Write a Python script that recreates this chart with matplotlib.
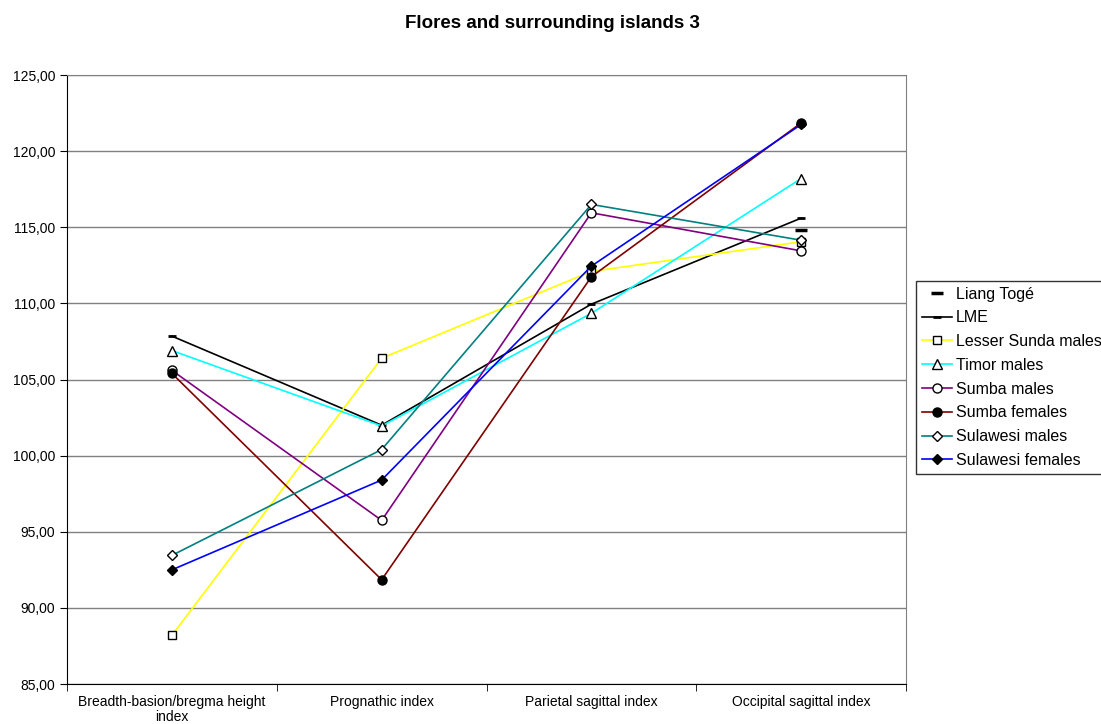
import numpy as np
import matplotlib.pyplot as plt
from matplotlib.ticker import FuncFormatter, FixedLocator

plt.rcParams['font.family'] = ['Liberation Sans', 'DejaVu Sans']

categories = ['Breadth-basion/bregma height\nindex', 'Prognathic index',
              'Parietal sagittal index', 'Occipital sagittal index']

liang_toge = [np.nan, np.nan, np.nan, 114.8]
lme = [107.85, 102.0, 109.95, 115.6]
lesser_sunda_m = [88.2, 106.4, 112.1, 114.05]
timor_m = [106.9, 101.95, 109.35, 118.2]
sumba_m = [105.6, 95.75, 115.95, 113.45]
sumba_f = [105.4, 91.85, 111.75, 121.85]
sulawesi_m = [93.45, 100.4, 116.5, 114.15]
sulawesi_f = [92.5, 98.4, 112.45, 121.75]

fig = plt.figure(figsize=(11.01, 7.24), dpi=100)
ax = fig.add_axes([0.0609, 0.0552, 0.7620, 0.8412])

x = np.arange(len(categories))

ax.plot(x, liang_toge, ls='none', marker='_', color='black', ms=8, mew=2.5,
        label='Liang Togé')
ax.plot(x, lme, color='black', lw=1.2, marker='_', ms=6, mew=2, label='LME')
ax.plot(x, lesser_sunda_m, color='#FFFF00', lw=1.2, marker='s', ms=6,
        mfc='white', mec='black', mew=1, label='Lesser Sunda males')
ax.plot(x, timor_m, color='#00FFFF', lw=1.2, marker='^', ms=7,
        mfc='white', mec='black', mew=1, label='Timor males')
ax.plot(x, sumba_m, color='#800080', lw=1.2, marker='o', ms=6.5,
        mfc='white', mec='black', mew=1, label='Sumba males')
ax.plot(x, sumba_f, color='#800000', lw=1.2, marker='o', ms=6.5,
        mfc='black', mec='black', mew=1, label='Sumba females')
ax.plot(x, sulawesi_m, color='#008080', lw=1.2, marker='D', ms=5,
        mfc='white', mec='black', mew=1, label='Sulawesi males')
ax.plot(x, sulawesi_f, color='#0000FF', lw=1.2, marker='D', ms=5,
        mfc='black', mec='black', mew=1, label='Sulawesi females')

ax.set_xlim(-0.5, len(categories) - 0.5)
ax.set_ylim(85, 125)
ax.set_yticks(np.arange(85, 126, 5))
ax.yaxis.set_major_formatter(FuncFormatter(lambda v, p: f'{v:.2f}'.replace('.', ',')))
ax.yaxis.grid(True, color='#808080', lw=1)
ax.set_axisbelow(True)

ax.set_xticks(x)
ax.set_xticklabels(categories, fontsize=10, linespacing=1.05)
ax.tick_params(axis='x', length=0, pad=8)
ax.xaxis.set_minor_locator(FixedLocator(np.arange(-0.5, len(categories), 1)))
ax.tick_params(axis='x', which='minor', length=5, direction='out', color='black')
ax.tick_params(axis='y', labelsize=10, length=5, direction='out', color='black')

for s in ['top', 'right']:
    ax.spines[s].set_color('#808080')
for s in ['left', 'bottom']:
    ax.spines[s].set_color('black')

fig.suptitle('Flores and surrounding islands 3', fontsize=13.5, fontweight='bold',
             x=0.502, y=0.968, va='center')

leg = ax.legend(loc='upper left', bbox_to_anchor=(0.832, 0.612),
                bbox_transform=fig.transFigure, fontsize=11.5, frameon=True,
                fancybox=False, edgecolor='black', handlelength=1.9,
                handletextpad=0.25, borderpad=0.35, labelspacing=0.55,
                borderaxespad=0)
leg.get_frame().set_linewidth(1)

fig.savefig('out.png', dpi=100)
